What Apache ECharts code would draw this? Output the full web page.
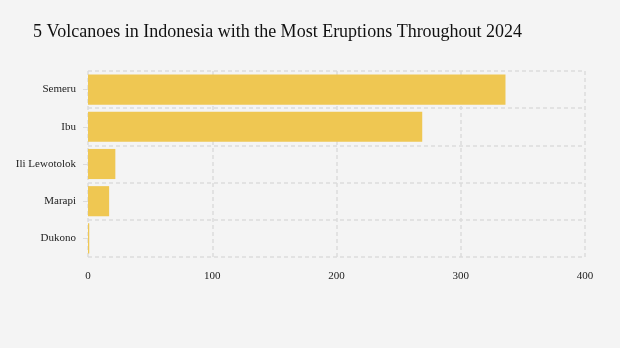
<!DOCTYPE html>
<html>
<head>
<meta charset="utf-8">
<script src="https://cdn.jsdelivr.net/npm/echarts@6/dist/echarts.min.js"></script>
<style>
  html, body { margin: 0; padding: 0; background: #f4f4f4; }
  #chart { width: 620px; height: 348px; }
</style>
</head>
<body>
<div id="chart"></div>
<script>
// Eruption counts per volcano, 2024
const volcanoes = ['Semeru', 'Ibu', 'Ili Lewotolok', 'Marapi', 'Dukono'];
const eruptions = [336, 269, 22, 17, 1];
const xTicks = [0, 100, 200, 300, 400];

const serif = '"Liberation Serif", "DejaVu Serif", serif';
const gridLine = { show: true, lineStyle: { color: '#dcdcdc', width: 1.5, type: [4, 3] } };

const chart = echarts.init(document.getElementById('chart'));
chart.setOption({
  backgroundColor: '#f4f4f4',
  animation: false,
  title: {
    text: '5 Volcanoes in Indonesia with the Most Eruptions Throughout 2024',
    left: 28,
    top: 18,
    textStyle: { fontFamily: serif, fontSize: 18, fontWeight: 'normal', color: '#111' }
  },
  grid: { left: 88, right: 35, top: 71, bottom: 91, containLabel: false },
  xAxis: {
    type: 'value',
    min: xTicks[0],
    max: xTicks[xTicks.length - 1],
    interval: 100,
    axisLine: { show: false },
    axisTick: { show: false },
    splitLine: gridLine,
    axisLabel: { fontFamily: serif, fontSize: 11, color: '#222', margin: 14 }
  },
  yAxis: {
    type: 'category',
    data: volcanoes,
    inverse: true,
    axisLine: { show: false },
    axisTick: { show: true, alignWithLabel: true, length: 5, lineStyle: { color: '#dcdcdc' } },
    splitLine: gridLine,
    axisLabel: { fontFamily: serif, fontSize: 11, color: '#222', margin: 12 }
  },
  series: [{
    type: 'bar',
    data: eruptions,
    barCategoryGap: '19%',
    itemStyle: { color: '#efc752' }
  }]
});
</script>
</body>
</html>
